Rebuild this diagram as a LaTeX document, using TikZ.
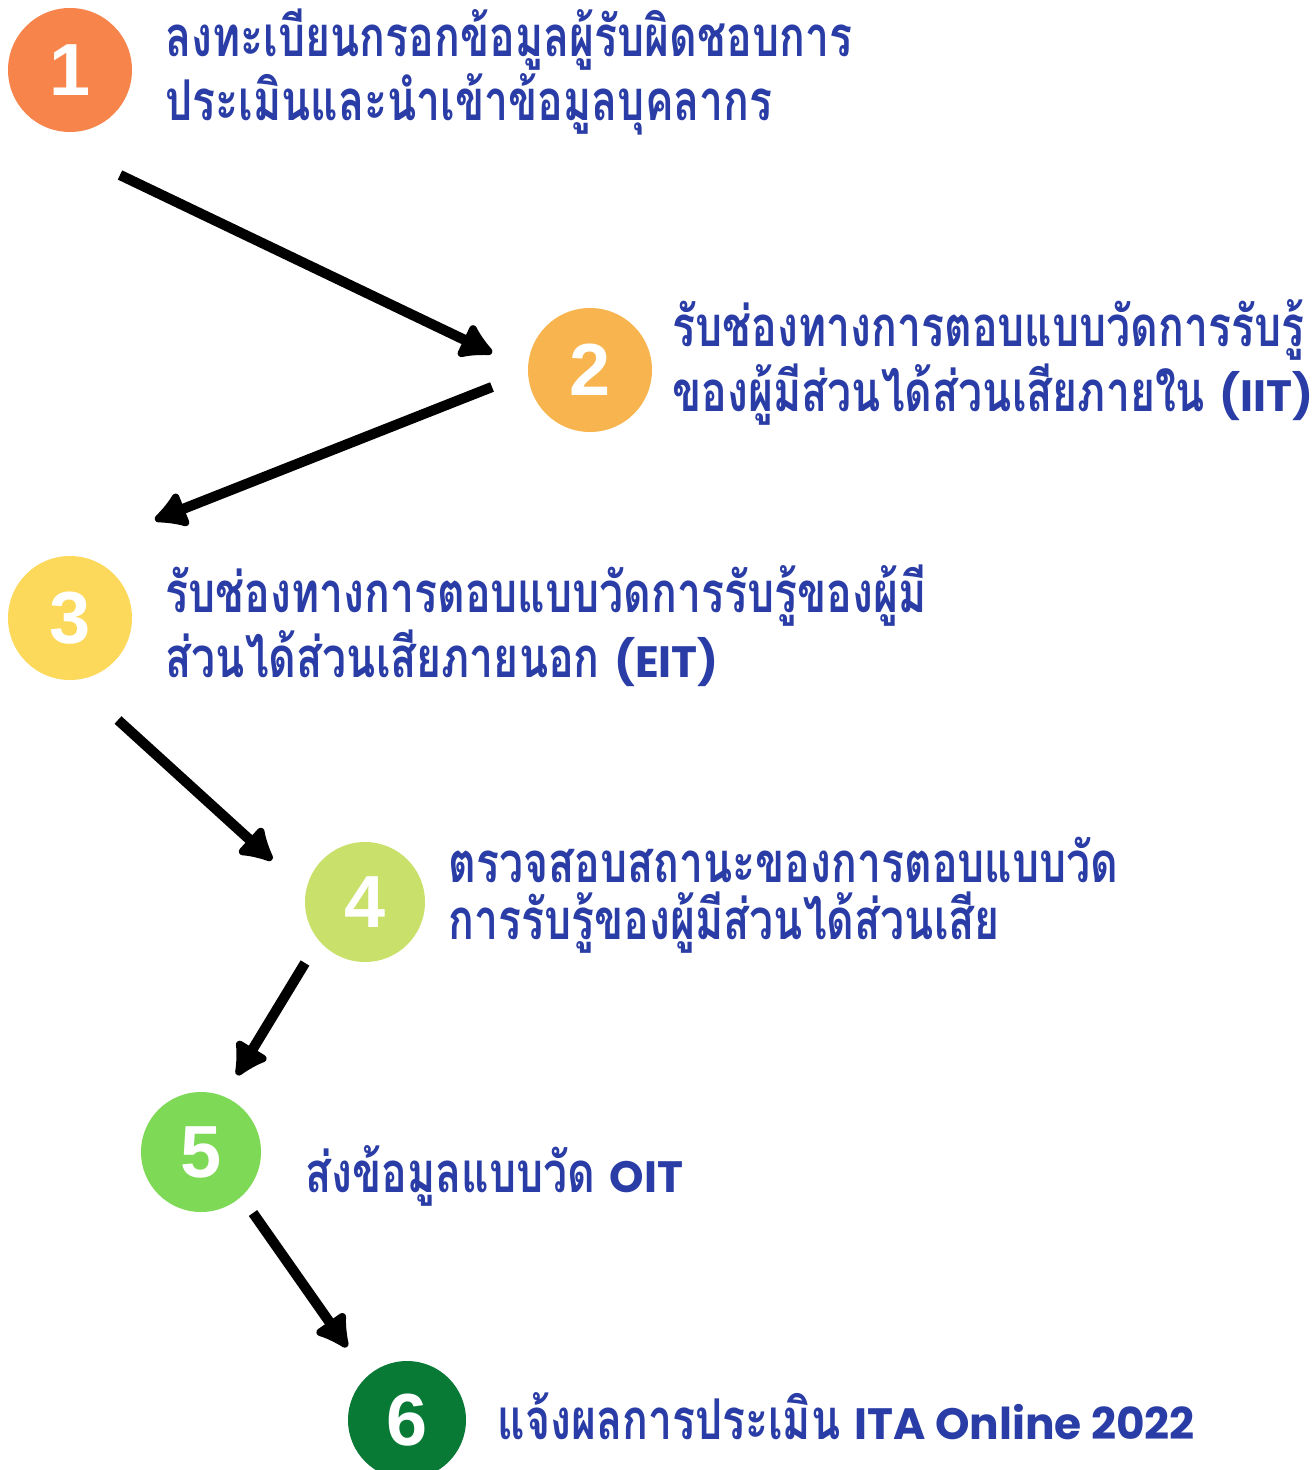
\documentclass[tikz,border=0pt]{standalone}
\usepackage{fontspec}
\setmainfont{Liberation Sans}
\newfontfamily\thaifont[Script=Thai, FakeStretch=0.76]{Loma}
\newfontfamily\latinfont[Scale=0.78]{Poppins}
\usetikzlibrary{arrows.meta}

\definecolor{stepone}{HTML}{F7844A}
\definecolor{steptwo}{HTML}{F8B44E}
\definecolor{stepthree}{HTML}{FCD95B}
\definecolor{stepfour}{HTML}{C9E06A}
\definecolor{stepfive}{HTML}{7ED957}
\definecolor{stepsix}{HTML}{087A36}
\definecolor{textblue}{HTML}{2A3DA6}

\tikzset{
  stepnum/.style={circle, inner sep=0pt, text=white,
    font=\fontsize{21}{21}\selectfont\bfseries},
  steptext/.style={anchor=west, align=left, inner sep=0pt, text=textblue,
    font=\thaifont\bfseries\fontsize{16}{16.2}\selectfont},
  flow/.style={->, line width=2.9pt}
}

\begin{document}
\begin{tikzpicture}[x=0.01cm, y=-0.01cm, >={Latex[length=3.8mm,width=4.4mm,round]}]
\clip (0,0) rectangle (1315,1470);
% Numbered circles
\foreach \n/\px/\py/\r/\col in {
  1/70/70/62/stepone,
  2/590/370/62/steptwo,
  3/70/618/62/stepthree,
  4/365/902/60/stepfour,
  5/201/1152/60/stepfive,
  6/407/1420/59/stepsix} {
  \node [stepnum, fill=\col, minimum size=2*\r*0.01cm] (c\n) at (\px,\py) {\n};
}
% Texts beside the circles
\foreach \n/\px/\py/\txt in {
  1/165/72/{ลงทะเบียนกรอกข้อมูลผู้รับผิดชอบการ\\ประเมินและนำเข้าข้อมูลบุคลากร},
  2/672/362/{รับช่องทางการตอบแบบวัดการรับรู้\\ของผู้มีส่วนได้ส่วนเสียภายใน {\latinfont(IIT)}},
  3/165/626/{รับช่องทางการตอบแบบวัดการรับรู้ของผู้มี\\ส่วนได้ส่วนเสียภายนอก {\latinfont(EIT)}},
  4/448/895/{ตรวจสอบสถานะของการตอบแบบวัด\\การรับรู้ของผู้มีส่วนได้ส่วนเสีย},
  5/305/1176/{ส่งข้อมูลแบบวัด {\latinfont OIT}},
  6/497/1416/{แจ้งผลการประเมิน {\latinfont ITA Online 2022}}} {
  \node [steptext] (t\n) at (\px,\py) {\txt};
}
% Arrow ends
\coordinate (s1) at (120,175);  \coordinate (e1) at (492,353);
\coordinate (s2) at (492,387);  \coordinate (e2) at (155,520);
\coordinate (s3) at (118,720);  \coordinate (e3) at (272,860);
\coordinate (s4) at (305,963);  \coordinate (e4) at (237,1075);
\coordinate (s5) at (253,1213); \coordinate (e5) at (347,1347);
\foreach \i in {1,...,5} {
  \draw [flow] (s\i) -- (e\i);
}
\end{tikzpicture}
\end{document}
